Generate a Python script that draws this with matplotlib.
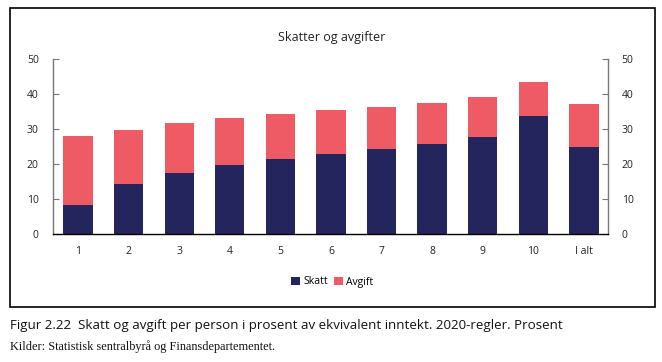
import matplotlib.pyplot as plt
from matplotlib.patches import Rectangle

categories = ["1", "2", "3", "4", "5", "6", "7", "8", "9", "10", "I alt"]
skatt = [8.3, 14.4, 17.5, 19.8, 21.5, 23.0, 24.2, 25.7, 27.8, 33.6, 25.0]
total = [27.9, 29.6, 31.6, 33.1, 34.3, 35.4, 36.4, 37.5, 39.1, 43.5, 37.1]
avgift = [t - s for t, s in zip(total, skatt)]
yticks = [0, 10, 20, 30, 40, 50]

navy = "#25255e"
red = "#ef5b65"

W, H = 662, 362
fig = plt.figure(figsize=(W / 100, H / 100), dpi=100)
ax = fig.add_axes([52.7 / W, 1 - 234 / H, (607.7 - 52.7) / W, (234 - 59) / H])

x = range(len(categories))
ax.bar(x, skatt, width=0.58, color=navy, label="Skatt")
ax.bar(x, avgift, bottom=skatt, width=0.58, color=red, label="Avgift")

ax.set_xlim(-0.5, 10.47)
ax.set_ylim(0, 50)
ax.set_yticks(yticks)
ax.set_xticks(list(x))
ax.set_xticklabels(categories)
ax.tick_params(axis="x", length=0, pad=9, labelsize=7.5, colors="#222222")
ax.tick_params(axis="y", direction="in", length=4, color="#777777",
               labelsize=7.5, labelcolor="#222222", pad=10,
               left=True, right=True, labelleft=True, labelright=True)
for s in ["left", "right"]:
    ax.spines[s].set_color("#777777")
    ax.spines[s].set_linewidth(1.0)
ax.spines["top"].set_visible(False)
ax.spines["bottom"].set_color("black")
ax.spines["bottom"].set_linewidth(1.0)
for lbl in ax.get_yticklabels() + ax.get_xticklabels():
    lbl.set_fontfamily("Open Sans")

fig.text(332 / W, 1 - 37 / H, "Skatter og avgifter", ha="center", va="center",
         fontsize=9, family="Open Sans", color="#222222")

leg = fig.legend(loc="center", bbox_to_anchor=(332 / W, 1 - 282 / H), ncol=2,
                 frameon=False, handlelength=0.9, handleheight=0.9,
                 handletextpad=0.3, columnspacing=0.6,
                 prop={"family": "Open Sans", "size": 7.5})

fig.patches.append(Rectangle((10 / W, 1 - 307 / H), 645 / W, 299 / H,
                             transform=fig.transFigure, fill=False,
                             edgecolor="black", linewidth=1.2))

fig.text(10 / W, 1 - 325 / H,
         "Figur 2.22  Skatt og avgift per person i prosent av ekvivalent inntekt. 2020-regler. Prosent",
         ha="left", va="center", fontsize=9.65, family="Open Sans", color="#111111")
fig.text(10 / W, 1 - 347 / H, "Kilder: Statistisk sentralbyrå og Finansdepartementet.",
         ha="left", va="center", fontsize=8.8, family="Liberation Serif", color="#111111")

fig.savefig("out.png", dpi=100)
